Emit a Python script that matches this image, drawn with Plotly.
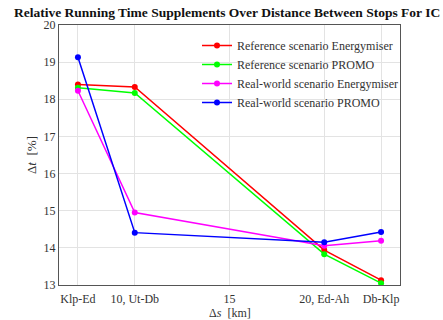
import plotly.graph_objects as go

# Data
x_km = [7, 10, 20, 23]
tick_vals = [7, 10, 15, 20, 23]
tick_text = ["Klp-Ed", "10, Ut-Db", "15", "20, Ed-Ah", "Db-Klp"]
y_tick_vals = [13, 14, 15, 16, 17, 18, 19, 20]
y_tick_text = ["13", "14", "15", "16", "17", "18", "19", "20"]

ref_energymiser = [18.40, 18.33, 13.94, 13.13]
ref_promo = [18.31, 18.17, 13.83, 13.05]
real_energymiser = [18.23, 14.95, 14.06, 14.19]
real_promo = [19.13, 14.41, 14.15, 14.43]

series = [
    ("Reference scenario Energymiser", ref_energymiser, "#ff0000"),
    ("Reference scenario PROMO", ref_promo, "#00ff00"),
    ("Real-world scenario Energymiser", real_energymiser, "#ff00ff"),
    ("Real-world scenario PROMO", real_promo, "#0000ff"),
]

serif = "Liberation Serif"

fig = go.Figure()
for name, vals, col in series:
    fig.add_trace(go.Scatter(
        x=x_km, y=vals, name=name, mode="lines+markers",
        line=dict(color=col, width=1.5),
        marker=dict(color=col, size=6, symbol="circle"),
    ))

axis_common = dict(
    showline=True, linecolor="#555555", linewidth=1,
    showgrid=True, gridcolor="#e3e3e3", gridwidth=1,
    zeroline=False,
    tickfont=dict(family=serif, size=12, color="#333333"),
)

fig.update_layout(
    width=443, height=320,
    margin=dict(l=59, r=43, t=25, b=35),
    paper_bgcolor="white", plot_bgcolor="white",
    title=dict(
        text="<b>Relative Running Time Supplements Over Distance Between Stops For IC</b>",
        font=dict(family=serif, size=13.5, color="#111111"),
        x=14 / 443, xref="container", xanchor="left",
        y=1 - 12 / 320, yref="container", yanchor="middle",
    ),
    xaxis=dict(
        range=[6, 24], tickmode="array", tickvals=tick_vals, ticktext=tick_text,
        ticks="outside", ticklen=3, tickcolor="rgba(0,0,0,0)",
        mirror=True, automargin=False,
        **axis_common,
    ),
    yaxis=dict(
        range=[13, 20], tickmode="array", tickvals=y_tick_vals, ticktext=y_tick_text,
        ticks="outside", ticklen=0, mirror=True,
        automargin=False,
        **axis_common,
    ),
    yaxis2=dict(
        overlaying="y", side="right", range=[13, 20], matches=None,
        tickmode="array", tickvals=y_tick_vals, showticklabels=False,
        ticks="inside", ticklen=4, tickcolor="#555555",
        showgrid=False, showline=False, zeroline=False,
    ),
    legend=dict(
        x=(197 - 59) / 341, y=1 - 6 / 260, xanchor="left", yanchor="top",
        bgcolor="rgba(0,0,0,0)", borderwidth=0,
        font=dict(family=serif, size=12, color="#333333"),
        tracegroupgap=0,
    ),
    showlegend=True,
    annotations=[
        dict(
            text="Δ<i>s</i>  [km]", xref="paper", yref="paper",
            x=0.5, y=-28 / 260, xanchor="center", yanchor="middle",
            showarrow=False, font=dict(family=serif, size=12, color="#333333"),
        ),
        dict(
            text="Δ<i>t</i>  [%]", xref="paper", yref="paper",
            x=-28 / 341, y=0.5, xanchor="center", yanchor="middle", textangle=-90,
            showarrow=False, font=dict(family=serif, size=13, color="#333333"),
        ),
    ],
)

fig.write_html("out.html")
